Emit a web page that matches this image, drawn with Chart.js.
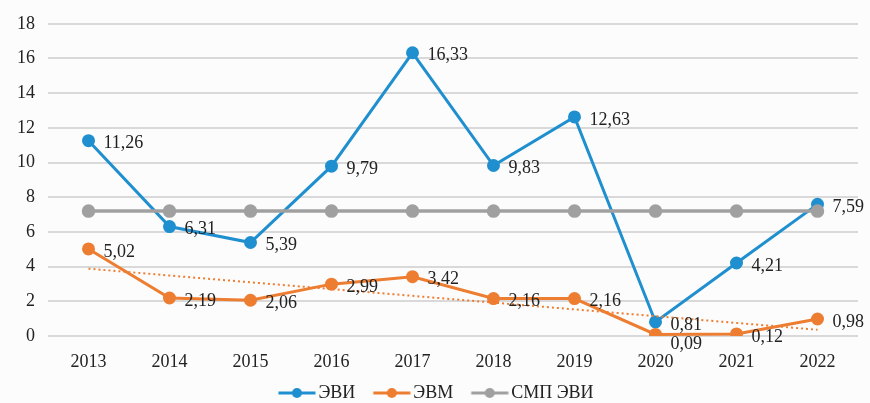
<!DOCTYPE html>
<html>
<head>
<meta charset="utf-8">
<script src="https://cdn.jsdelivr.net/npm/chart.js@4"></script>
<style>
  html, body { margin: 0; padding: 0; background: #fcfcfc; }
  #wrap { width: 870px; height: 403px; }
</style>
</head>
<body>
<div id="wrap"><canvas id="chart"></canvas></div>
<script>
var years = ['2013', '2014', '2015', '2016', '2017', '2018', '2019', '2020', '2021', '2022'];
var evi = [11.26, 6.31, 5.39, 9.79, 16.33, 9.83, 12.63, 0.81, 4.21, 7.59];
var evm = [5.02, 2.19, 2.06, 2.99, 3.42, 2.16, 2.16, 0.09, 0.12, 0.98];
var smpEvi = [7.2, 7.2, 7.2, 7.2, 7.2, 7.2, 7.2, 7.2, 7.2, 7.2];
// dotted trend for ЭВМ, ends
var evmTrend = [3.88, null, null, null, null, null, null, null, null, 0.36];
var yTicks = [0, 2, 4, 6, 8, 10, 12, 14, 16, 18];

var blue = '#1f8fcf', orange = '#ed7d31', grey = '#a0a0a0';
var serif = "'Liberation Serif', 'DejaVu Serif', serif";

// line + dot marker for the legend; wider than the box so it sits close to the text
function legendIcon(color) {
    var c = document.createElement('canvas');
    c.width = 58; c.height = 12;
    var g = c.getContext('2d');
    g.strokeStyle = color; g.lineWidth = 3;
    g.beginPath(); g.moveTo(20.5, 6); g.lineTo(57.5, 6); g.stroke();
    g.fillStyle = color;
    g.beginPath(); g.arc(39, 6, 5, 0, Math.PI * 2); g.fill();
    return c;
}

// value labels to the right of the points
var valueLabels = {
    id: 'valueLabels',
    afterDatasetsDraw: function(chart) {
        var ctx = chart.ctx;
        ctx.save();
        ctx.font = '18px ' + serif;
        ctx.fillStyle = '#222';
        ctx.textAlign = 'left';
        ctx.textBaseline = 'middle';
        [0, 1].forEach(function(di) {
            var meta = chart.getDatasetMeta(di);
            var vals = chart.data.datasets[di].data;
            meta.data.forEach(function(pt, i) {
                var dy = 3;
                if (di === 1 && vals[i] < 0.1) dy = 10;
                ctx.fillText(vals[i].toFixed(2).replace('.', ','), pt.x + 15, pt.y + dy);
            });
        });
        ctx.restore();
    }
};

var ctx = document.getElementById('chart').getContext('2d');
var chart = new Chart(ctx, {
    type: 'line',
    data: {
        labels: years,
        datasets: [{
            label: 'ЭВИ',
            data: evi,
            borderColor: blue,
            backgroundColor: blue,
            borderWidth: 3,
            pointRadius: 5,
            order: 3
        }, {
            label: 'ЭВМ',
            data: evm,
            borderColor: orange,
            backgroundColor: orange,
            borderWidth: 3,
            pointRadius: 5,
            order: 2
        }, {
            label: 'СМП ЭВИ',
            data: smpEvi,
            borderColor: grey,
            backgroundColor: grey,
            borderWidth: 3.5,
            pointRadius: 5,
            order: 0
        }, {
            label: 'trend',
            data: evmTrend,
            borderColor: orange,
            borderWidth: 2,
            borderDash: [2, 3],
            pointRadius: 0,
            spanGaps: true,
            order: 1
        }]
    },
    options: {
        animation: false,
        responsive: true,
        maintainAspectRatio: false,
        layout: { padding: { left: 0, right: 12, top: 14, bottom: -9 } },
        plugins: {
            tooltip: { enabled: false },
            legend: {
                position: 'bottom',
                labels: {
                    usePointStyle: true,
                    pointStyleWidth: 45,
                    color: '#222',
                    font: { family: serif, size: 18 },
                    padding: 4,
                    filter: function(item) { return item.text !== 'trend'; },
                    sort: function(a, b) { return a.datasetIndex - b.datasetIndex; },
                    generateLabels: function(chart) {
                        return chart.data.datasets.map(function(ds, i) {
                            return {
                                text: ds.label,
                                pointStyle: legendIcon(ds.borderColor),
                                fillStyle: ds.borderColor,
                                strokeStyle: ds.borderColor,
                                lineWidth: 0,
                                fontColor: '#222',
                                datasetIndex: i
                            };
                        });
                    }
                }
            }
        },
        scales: {
            x: {
                offset: true,
                afterFit: function(scale) { scale.height = 44; },
                grid: { display: false },
                border: { display: false },
                ticks: { color: '#222', font: { family: serif, size: 18 }, padding: 7 }
            },
            y: {
                min: 0,
                max: 18,
                afterBuildTicks: function(scale) {
                    scale.ticks = yTicks.map(function(v) { return { value: v }; });
                },
                afterFit: function(scale) { scale.width = 48; },
                grid: { color: '#d9d9d9', lineWidth: 2, drawTicks: false },
                border: { display: false },
                ticks: { color: '#222', font: { family: serif, size: 18 }, padding: 13 }
            }
        }
    },
    plugins: [valueLabels]
});
</script>
</body>
</html>
